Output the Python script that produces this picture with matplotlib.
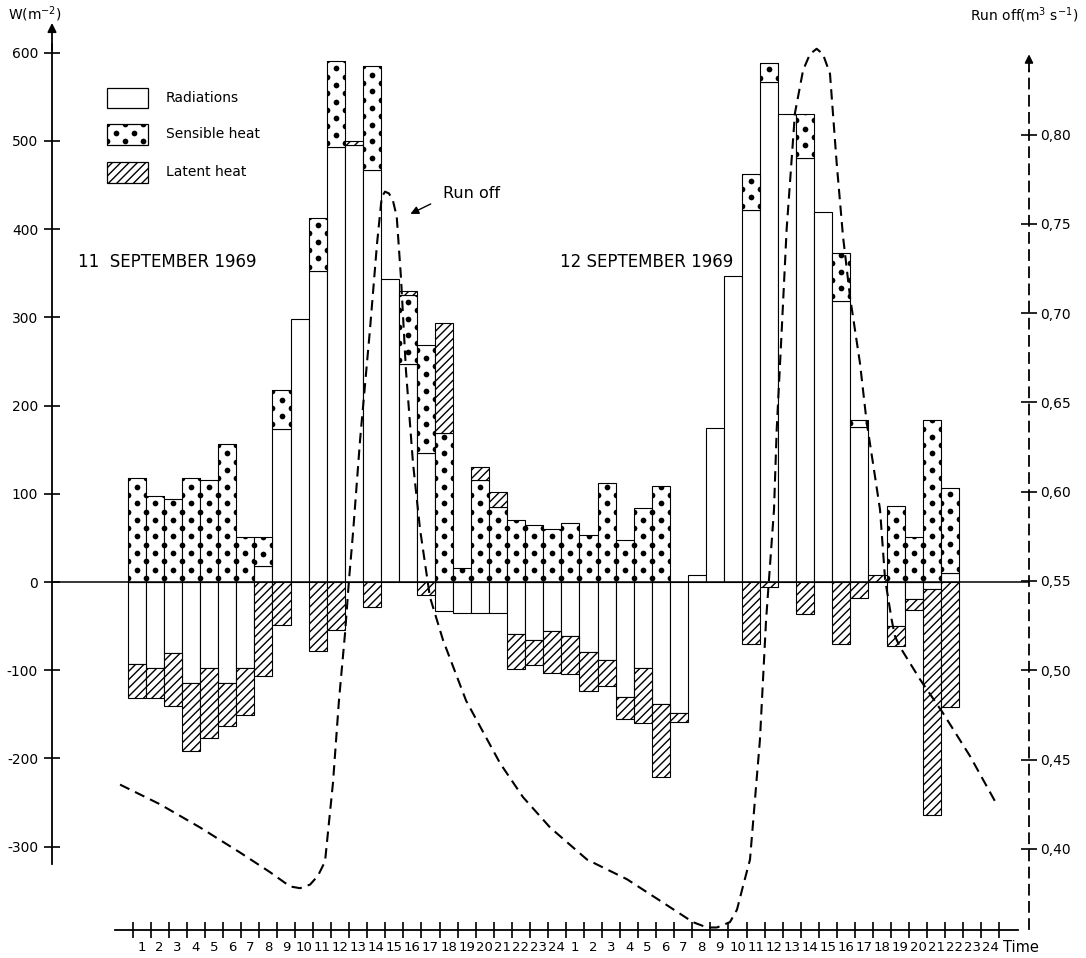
import numpy as np
import matplotlib.pyplot as plt
from matplotlib.patches import Rectangle

plt.rcParams['font.family'] = ['DejaVu Sans']
plt.rcParams['hatch.linewidth'] = 1.0

# hourly heat fluxes (W m-2): 11 Sept 1969 hours 1-24, then 12 Sept hours 1-24
radiation = [-93, -98, -81, -114, -98, -114, -98, 18, 174, 298, 353, 493,
             495, 467, 344, 247, 146, -33, -35, -35, -35, -59, -66, -55,
             -61, -79, -88, -130, -98, -138, -148, 8, 175, 347, 422, 567,
             531, 481, 420, 319, 176, 0, -50, -19, -8, 10, 0, 0]
sensible = [118, 97, 94, 118, 116, 157, 51, 33, 44, 0, 60, 98,
            0, 118, 0, 78, 123, 169, 16, 116, 85, 70, 65, 60,
            67, 53, 112, 48, 84, 109, 0, 0, 0, 0, 41, 22,
            0, 50, 0, 54, 8, 0, 86, 51, 184, 97, 0, 0]
latent = [-39, -34, -60, -78, -79, -49, -53, -107, -49, 0, -78, -54,
          5, -28, 0, 5, -15, 125, 0, 14, 17, -40, -28, -48,
          -43, -45, -30, -25, -62, -83, -11, 0, 0, 0, -70, -6,
          0, -36, 0, -70, -18, 8, -23, -13, -256, -142, 0, 0]

# run off (m3 s-1), time in hours from the start of 11 Sept
runoff_t = [-0.44, 1.77, 3.99, 6.20, 7.86, 8.97, 9.52, 10.08, 10.52, 10.91,
            11.35, 11.68, 12.02, 12.24, 12.46, 12.85, 13.40, 13.79, 14.05,
            14.23, 14.45, 14.67, 14.88, 15.12, 15.39, 15.78, 16.17, 16.72,
            17.44, 18.72, 20.60, 21.87, 23.37, 25.42, 27.63, 29.46, 31.28,
            32.06, 32.61, 33.33, 33.72, 34.05, 34.44, 34.99, 35.33, 35.77,
            35.92, 36.20, 36.47, 36.93, 37.38, 37.76, 38.13, 38.48, 38.87,
            39.24, 39.59, 39.98, 40.53, 40.90, 41.25, 41.64, 41.92, 42.29,
            42.47, 42.75, 43.85, 45.13, 46.62, 48.10]
runoff_q = [0.436, 0.425, 0.412, 0.398, 0.387, 0.379, 0.378, 0.380, 0.385,
            0.393, 0.437, 0.483, 0.521, 0.551, 0.577, 0.629, 0.691, 0.739,
            0.765, 0.768, 0.767, 0.763, 0.754, 0.719, 0.668, 0.616, 0.579,
            0.541, 0.517, 0.483, 0.448, 0.429, 0.412, 0.394, 0.383, 0.371,
            0.359, 0.356, 0.356, 0.359, 0.366, 0.379, 0.394, 0.461, 0.528,
            0.590, 0.635, 0.691, 0.747, 0.812, 0.836, 0.845, 0.848, 0.845,
            0.834, 0.784, 0.743, 0.709, 0.672, 0.639, 0.616, 0.590, 0.551,
            0.528, 0.519, 0.513, 0.495, 0.476, 0.452, 0.425]

w_ticks = [-300, -200, -100, 0, 100, 200, 300, 400, 500, 600]
q_ticks = [0.40, 0.45, 0.50, 0.55, 0.60, 0.65, 0.70, 0.75, 0.80]
hour_labels = [str(h) for h in range(1, 25)] * 2

W, H = 1086, 958


def fx(px):
    return px / W


def fy(py):
    return 1 - py / H


def add_dots(ax, patch, x0, x1, y0, y1, sx=1.0, sy=9.4):
    # staggered dot texture, clipped to the patch
    xs, ys = [], []
    for j, yy in enumerate(np.arange(y0 + sy / 2, y1 + sy, sy)):
        if j % 2 == 0:
            cols = np.arange(x0, x1 + sx * 0.5, sx)
        else:
            cols = np.arange(x0 + sx / 2, x1, sx)
        xs.extend(cols)
        ys.extend([yy] * len(cols))
    sc = ax.scatter(xs, ys, s=17, c='black', linewidths=0, zorder=2.2)
    sc.set_clip_path(patch)


fig = plt.figure(figsize=(W / 100, H / 100), dpi=100)
ax = fig.add_axes([0, 0, 1, 1])
ax2 = ax.twinx()

rad = np.array(radiation, float)
sen = np.array(sensible, float)
lat = np.array(latent, float)
x = np.arange(len(rad)) + 0.5

pos = np.zeros(len(rad))
neg = np.zeros(len(rad))
for vals, kind in ((rad, 'rad'), (sen, 'sen'), (lat, 'lat')):
    base = np.where(vals >= 0, pos, neg)
    m = vals != 0
    style = dict(width=1.0, facecolor='white', edgecolor='black',
                 linewidth=0.8, zorder=2)
    if kind == 'lat':
        style['hatch'] = '////'
    bars = ax.bar(x[m], vals[m], bottom=base[m], **style)
    if kind == 'sen':
        for b in bars:
            add_dots(ax, b, b.get_x(), b.get_x() + b.get_width(),
                     b.get_y(), b.get_y() + b.get_height())
    pos = pos + np.clip(vals, 0, None)
    neg = neg + np.clip(vals, None, 0)

ax.axhline(0, xmin=fx(52), xmax=fx(1029), color='black', lw=1.1, zorder=2.5)

# run off curve on the right-hand scale
ax2.plot(runoff_t, runoff_q, color='black', lw=1.5, ls=(0, (5, 3)), zorder=3)
ax.annotate('', xy=(15.5, 416), xytext=(16.9, 430),
            arrowprops=dict(arrowstyle='-|>', color='black', lw=1.0,
                            mutation_scale=12), zorder=4)
ax.text(fx(443), fy(193), 'Run off', transform=ax.transAxes, fontsize=11.5,
        ha='left', va='center')

ax.text(fx(78), fy(262), '11  SEPTEMBER 1969', transform=ax.transAxes,
        fontsize=12, ha='left', va='center')
ax.text(fx(560), fy(262), '12 SEPTEMBER 1969', transform=ax.transAxes,
        fontsize=12, ha='left', va='center')

# legend
leg_x0, leg_x1 = -1.163, 1.107
for (y0, y1), label, kind in (((537.4, 560.0), 'Radiations', 'rad'),
                              ((495.5, 519.3), 'Sensible heat', 'sen'),
                              ((452.4, 476.2), 'Latent heat', 'lat')):
    r = Rectangle((leg_x0, y0), leg_x1 - leg_x0, y1 - y0, facecolor='white',
                  edgecolor='black', lw=0.9, zorder=2,
                  hatch='////' if kind == 'lat' else None)
    ax.add_patch(r)
    if kind == 'sen':
        add_dots(ax, r, leg_x0, leg_x1, y0, y1)
    ax.text(2.1, (y0 + y1) / 2, label, fontsize=10, ha='left', va='center')

# left axis (W m-2)
for s in ('top', 'right'):
    ax.spines[s].set_visible(False)
ax.spines['left'].set_position(('axes', fx(52)))
ax.spines['left'].set_bounds(-320, 610)
ax.spines['left'].set_linewidth(1.3)
ax.set_yticks(w_ticks, [str(v) for v in w_ticks])
ax.tick_params(axis='y', direction='inout', length=12, width=1.2, pad=4,
               labelsize=10)
ax.annotate('', xy=(fx(52), 637), xycoords=ax.get_yaxis_transform(),
            xytext=(fx(52), 600),
            arrowprops=dict(arrowstyle='-|>', color='black', lw=1.3,
                            mutation_scale=13))
ax.text(fx(8), fy(14), 'W(m$^{-2}$)', transform=ax.transAxes, fontsize=10,
        ha='left', va='center')

# time axis
ax.spines['bottom'].set_position(('data', -394.6))
ax.spines['bottom'].set_bounds(-0.72, 49.3)
ax.spines['bottom'].set_linewidth(1.3)
ax.set_xticks(np.arange(49) + 0.25, [''] * 49)
ax.set_xticks(np.arange(48) + 0.75, hour_labels, minor=True)
ax.tick_params(axis='x', which='major', direction='inout', length=11,
               width=1.2)
ax.tick_params(axis='x', which='minor', length=0, pad=8, labelsize=9.5)
ax.text(fx(1021), fy(948), 'Time', transform=ax.transAxes, fontsize=10.5,
        ha='center', va='center')

# right axis (run off)
for s in ('top', 'left', 'bottom'):
    ax2.spines[s].set_visible(False)
ax2.spines['right'].set_position(('axes', fx(1029)))
ax2.spines['right'].set_bounds(0.355, 0.836)
ax2.spines['right'].set_linewidth(1.3)
ax2.spines['right'].set_linestyle((0, (5.5, 4)))
ax2.set_yticks(q_ticks, [f'{v:.2f}'.replace('.', ',') for v in q_ticks])
ax2.tick_params(axis='y', direction='inout', length=12, width=1.2, pad=2,
                labelsize=10)
ax2.annotate('', xy=(fx(1029), 0.8465), xycoords=ax2.get_yaxis_transform(),
             xytext=(fx(1029), 0.834),
             arrowprops=dict(arrowstyle='-|>', color='black', lw=1.3,
                             mutation_scale=12))
ax.text(fx(1078), fy(15), 'Run off(m$^3$ s$^{-1}$)', transform=ax.transAxes,
        fontsize=10, ha='right', va='center')

ax.set_xlim(-128 / 18.06, (W - 128) / 18.06)
ax.set_ylim(-(H - 582) / 0.882, 582 / 0.882)
ax2.set_ylim(0.55 - (H - 581) / 1786, 0.55 + 581 / 1786)

fig.savefig('out.png', dpi=100)
